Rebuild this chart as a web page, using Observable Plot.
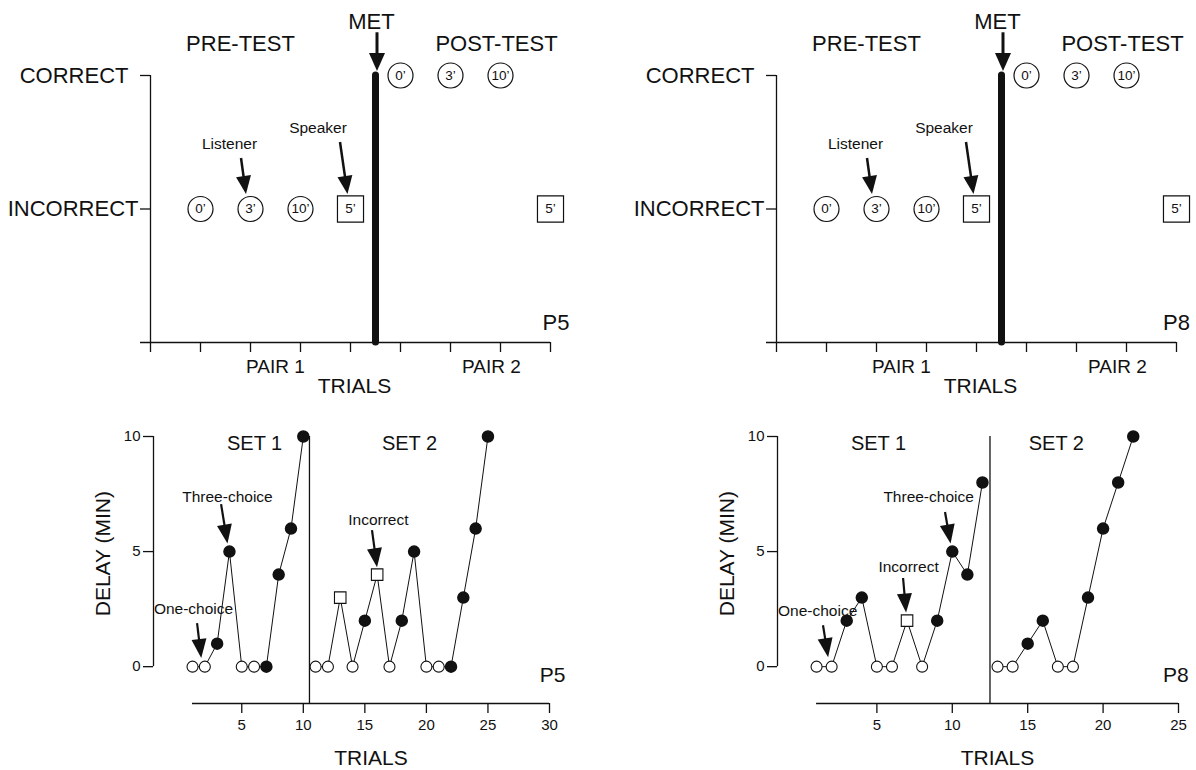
<!DOCTYPE html>
<html><head><meta charset="utf-8">
<script src="https://cdn.jsdelivr.net/npm/d3@7"></script>
<script src="https://cdn.jsdelivr.net/npm/@observablehq/plot@0.6"></script>
<style>
html,body{margin:0;padding:0;background:#fff;}
#fig{position:relative;width:1196px;height:770px;overflow:hidden;background:#fff;}
#fig > div{position:absolute;}
</style></head><body><div id="fig"></div>
<script>
// ---------------- data ----------------
// Top panels: pre-test / post-test probes (same for P5 and P8)
const probeLabels = ["0’", "3’", "10’", "5’"];
const preTrial = [1, 2, 3, 4];
const preOutcome = ["INCORRECT", "INCORRECT", "INCORRECT", "INCORRECT"];
const preKind = ["circle", "circle", "circle", "square"];
const postTrial = [5, 6, 7, 8];
const postOutcome = ["CORRECT", "CORRECT", "CORRECT", "INCORRECT"];
const postKind = ["circle", "circle", "circle", "square"];
const outcomeLevels = ["INCORRECT", "CORRECT"]; // plotted at 1 and 2
const metTrial = 4.5;
const topTicks = [0, 1, 2, 3, 4, 5, 6, 7, 8];

// Bottom panels: delay (min) per trial
const p5Delay = [0, 0, 1, 5, 0, 0, 0, 4, 6, 10, 0, 0, 3, 0, 2, 4, 0, 2, 5, 0, 0, 0, 3, 6, 10];
const p5Kind = ["open","open","filled","filled","open","open","filled","filled","filled","filled",
                "open","open","square","open","filled","square","open","filled","filled","open","open","filled","filled","filled","filled"];
const p5Set1Len = 10;
const p5XTicks = [5, 10, 15, 20, 25, 30];

const p8Delay = [0, 0, 2, 3, 0, 0, 2, 0, 2, 5, 4, 8, 0, 0, 1, 2, 0, 0, 3, 6, 8, 10];
const p8Kind = ["open","open","filled","filled","open","open","square","open","filled","filled","filled","filled",
                "open","open","filled","filled","open","open","filled","filled","filled","filled"];
const p8Set1Len = 12;
const p8XTicks = [5, 10, 15, 20, 25];

const delayTicks = [0, 5, 10];

// ---------------- annotations ----------------
const topTexts = [
  {x: 1.8, y: 2.24, text: "PRE-TEST", size: 22},
  {x: 6.92, y: 2.24, text: "POST-TEST", size: 22},
  {x: 4.42, y: 2.40, text: "MET", size: 22},
  {x: 2.5, y: -0.18, text: "PAIR 1", size: 19},
  {x: 6.82, y: -0.18, text: "PAIR 2", size: 19},
  {x: 4.08, y: -0.33, text: "TRIALS", size: 21},
  {x: 1.58, y: 1.487, text: "Listener", size: 15.5},
  {x: 3.35, y: 1.603, text: "Speaker", size: 15.5}
];
const topArrows = [
  {x1: 4.54, y1: 2.32, x2: 4.54, y2: 2.03, w: 3, len: 18, half: 8},
  {x1: 1.82, y1: 1.378, x2: 1.92, y2: 1.109, w: 2.5, len: 18, half: 7.5},
  {x1: 3.80, y1: 1.498, x2: 3.95, y2: 1.109, w: 2.5, len: 18, half: 7.5}
];

const p5Texts = [
  {x: 6.04, y: 9.70, text: "SET 1", size: 20},
  {x: 18.63, y: 9.70, text: "SET 2", size: 20},
  {x: 3.84, y: 7.39, text: "Three-choice", size: 15.5},
  {x: 1.08, y: 2.52, text: "One-choice", size: 15.5},
  {x: 16.1, y: 6.39, text: "Incorrect", size: 15.5},
  {x: 15.5, y: -3.96, text: "TRIALS", size: 21}
];
const p5Arrows = [
  {x1: 3.36, y1: 7.04, x2: 3.88, y2: 5.33, w: 2.2, len: 19, half: 7.5},
  {x1: 1.41, y1: 1.87, x2: 1.75, y2: 0.36, w: 2.2, len: 19, half: 7.5},
  {x1: 15.62, y1: 5.91, x2: 16.03, y2: 4.30, w: 2.2, len: 19, half: 7.5}
];
const p8Texts = [
  {x: 5.11, y: 9.70, text: "SET 1", size: 20},
  {x: 16.9, y: 9.70, text: "SET 2", size: 20},
  {x: 8.43, y: 7.39, text: "Three-choice", size: 15.5},
  {x: 7.10, y: 4.35, text: "Incorrect", size: 15.5},
  {x: 1.07, y: 2.43, text: "One-choice", size: 15.5},
  {x: 13, y: -3.96, text: "TRIALS", size: 21}
];
const p8Arrows = [
  {x1: 9.55, y1: 6.70, x2: 9.92, y2: 5.33, w: 2.2, len: 19, half: 7.5},
  {x1: 6.77, y1: 3.83, x2: 6.97, y2: 2.33, w: 2.2, len: 19, half: 7.5},
  {x1: 1.46, y1: 1.78, x2: 1.80, y2: 0.39, w: 2.2, len: 19, half: 7.5}
];

// ---------------- helpers ----------------
const FONT = '"Liberation Sans", Arial, Helvetica, sans-serif';
const INK = "#111";
const fig = document.getElementById("fig");
function place(node, left, top) {
  const d = document.createElement("div");
  d.style.left = left + "px"; d.style.top = top + "px";
  d.appendChild(node); fig.appendChild(d);
}
// filled-triangle arrows drawn through the plot's scales
function arrowMark(list) {
  return (index, scales) => {
    const g = d3.create("svg:g");
    for (const a of list) {
      const X1 = scales.x(a.x1), Y1 = scales.y(a.y1), X2 = scales.x(a.x2), Y2 = scales.y(a.y2);
      const dx = X2 - X1, dy = Y2 - Y1, L = Math.hypot(dx, dy), ux = dx / L, uy = dy / L;
      const bx = X2 - ux * a.len, by = Y2 - uy * a.len;
      g.append("line").attr("x1", X1).attr("y1", Y1).attr("x2", bx + ux * 2).attr("y2", by + uy * 2)
        .attr("stroke", INK).attr("stroke-width", a.w);
      g.append("path")
        .attr("d", `M${X2},${Y2}L${bx - uy * a.half},${by + ux * a.half}L${bx + uy * a.half},${by - ux * a.half}Z`)
        .attr("fill", INK);
    }
    return g.node();
  };
}

function topPanel(code, codeX, marginLeft, marginRight) {
  const pts = [
    ...preTrial.map((t, i) => ({trial: t, y: outcomeLevels.indexOf(preOutcome[i]) + 1, kind: preKind[i], label: probeLabels[i]})),
    ...postTrial.map((t, i) => ({trial: t, y: outcomeLevels.indexOf(postOutcome[i]) + 1, kind: postKind[i], label: probeLabels[i]}))
  ];
  return Plot.plot({
    width: 598, height: 400, marginLeft, marginRight, marginTop: 75, marginBottom: 58,
    x: {domain: [0, 8]}, y: {domain: [0, 2]},
    style: {fontFamily: FONT, background: "transparent", overflow: "visible", color: INK},
    marks: [
      Plot.ruleX([0], {y1: 0, y2: 2, strokeWidth: 1.3}),
      Plot.ruleY([0], {x1: -0.2, x2: 8, strokeWidth: 1.3}),
      Plot.axisX({ticks: topTicks, tickSize: 10, tickFormat: () => "", label: null, strokeWidth: 1.3}),
      Plot.axisY({ticks: [2], tickSize: 10, tickPadding: 12, tickFormat: () => outcomeLevels[1], fontSize: 22, label: null, strokeWidth: 1.3}),
      Plot.axisY({ticks: [1], tickSize: 10, tickPadding: 2, tickFormat: () => outcomeLevels[0], fontSize: 22, label: null, strokeWidth: 1.3}),
      Plot.ruleX([metTrial], {y1: 0, y2: 2, strokeWidth: 7, strokeLinecap: "round"}),
      Plot.dot(pts.filter(d => d.kind === "circle"), {x: "trial", y: "y", r: 12.5, stroke: INK, fill: "#fff", strokeWidth: 1.2}),
      Plot.dot(pts.filter(d => d.kind === "square"), {x: "trial", y: "y", r: 14.7, symbol: "square", stroke: INK, fill: "#fff", strokeWidth: 1.2}),
      Plot.text(pts, {x: "trial", y: "y", text: "label", fontSize: 13.5}),
      Plot.text(topTexts, {x: "x", y: "y", text: "text", fontSize: "size"}),
      Plot.text([code], {x: codeX, y: 0.15, text: d => d, textAnchor: "end", fontSize: 22}),
      arrowMark(topArrows)
    ]
  });
}

function bottomPanel(code, delays, kinds, set1Len, xMin, xMax, xTicks, marginLeft, marginRight, texts, arrows, yLabelX, codeX) {
  const rows = delays.map((d, i) => ({trial: i + 1, delay: d, kind: kinds[i], set: i < set1Len ? 1 : 2}));
  return Plot.plot({
    width: 598, height: 370, marginLeft, marginRight, marginTop: 36, marginBottom: 67,
    x: {domain: [xMin, xMax]}, y: {domain: [-1.6, 10]},
    style: {fontFamily: FONT, background: "transparent", overflow: "visible", color: INK},
    marks: [
      Plot.ruleX([xMin], {y1: 0, y2: 10, strokeWidth: 1.3}),
      Plot.ruleY([-1.6], {x1: 1, x2: xMax, strokeWidth: 1.3}),
      Plot.axisY({ticks: delayTicks, tickSize: 10, tickPadding: 3, fontSize: 15, label: null, strokeWidth: 1.3}),
      Plot.axisX({ticks: xTicks, tickSize: 10, tickPadding: 6, fontSize: 15, label: null, strokeWidth: 1.3}),
      Plot.ruleX([set1Len + 0.5], {y1: -1.6, y2: 10, strokeWidth: 1.3}),
      Plot.line(rows, {x: "trial", y: "delay", z: "set", stroke: INK, strokeWidth: 1}),
      Plot.dot(rows.filter(d => d.kind === "open"), {x: "trial", y: "delay", r: 5.5, fill: "#fff", stroke: INK, strokeWidth: 1.1}),
      Plot.dot(rows.filter(d => d.kind === "filled"), {x: "trial", y: "delay", r: 5.5, fill: INK, stroke: INK}),
      Plot.dot(rows.filter(d => d.kind === "square"), {x: "trial", y: "delay", r: 6.5, symbol: "square", fill: "#fff", stroke: INK, strokeWidth: 1.1}),
      Plot.text(texts, {x: "x", y: "y", text: "text", fontSize: "size"}),
      Plot.text(["DELAY (MIN)"], {x: yLabelX, y: 4.91, text: d => d, rotate: -90, fontSize: 21}),
      Plot.text([code], {x: codeX, y: -0.39, text: d => d, textAnchor: "end", fontSize: 21}),
      arrowMark(arrows)
    ]
  });
}

place(topPanel("P5", 8.38, 150, 48), 0, 0);
place(topPanel("P8", 8.27, 178, 20), 598, 0);
place(bottomPanel("P5", p5Delay, p5Kind, p5Set1Len, -2.17, 30, p5XTicks, 153, 49, p5Texts, p5Arrows, -6.23, 31.3), 0, 400);
place(bottomPanel("P8", p8Delay, p8Kind, p8Set1Len, -1.59, 25, p8XTicks, 179, 18, p8Texts, p8Arrows, -4.9, 25.67), 598, 400);
</script>
</body></html>
